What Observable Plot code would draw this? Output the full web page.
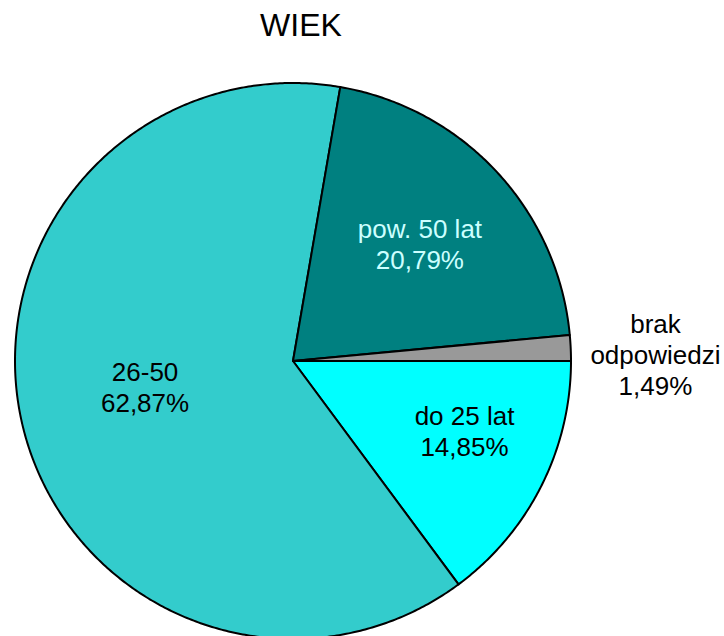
<!DOCTYPE html>
<html>
<head>
<meta charset="utf-8">
<script src="https://cdn.jsdelivr.net/npm/d3@7"></script>
<script src="https://cdn.jsdelivr.net/npm/@observablehq/plot@0.6"></script>
<style>
  html, body { margin: 0; padding: 0; background: white; }
  #title { width: 724px; box-sizing: border-box; padding-right: 122px; height: 50px; line-height: 50px;
           text-align: center; font-family: "Liberation Sans", Arial, sans-serif; font-size: 32px; color: black; }
  svg { display: block; }
</style>
</head>
<body>
<div id="title">WIEK</div>
<div id="chart"></div>
<script>
// ---- data ----
const categories = ["do 25 lat", "26-50", "pow. 50 lat", "brak odpowiedzi"];
const labelNames = ["do 25 lat", "26-50", "pow. 50 lat", "brak\nodpowiedzi"];
const values = [14.85, 62.87, 20.79, 1.49];
const sliceColors = ["#00FFFF", "#33CCCC", "#008080", "#999999"];
const labelColors = ["#000000", "#000000", "#CCFFFF", "#000000"];

// ---- layout (label placement relative to slice mid-angle) ----
const labelRadius = [0.666, 0.54, 0.622, 1.304];
const labelAngleShift = [-4.6, 3.6, 0, 1.6]; // degrees

const total = d3.sum(values);
const slices = [];
const outline = [];
let acc = 0;
values.forEach((v, i) => {
  const a0 = 2 * Math.PI * acc / total;
  acc += v;
  const a1 = 2 * Math.PI * acc / total;
  const n = Math.max(2, Math.ceil((a1 - a0) / (Math.PI / 360)));
  outline.push({cat: categories[i], color: sliceColors[i], x: 0, y: 0});
  for (let k = 0; k <= n; k++) {
    const a = a0 + (a1 - a0) * k / n;
    outline.push({cat: categories[i], color: sliceColors[i], x: Math.cos(a), y: Math.sin(a)});
  }
  const mid = (a0 + a1) / 2 + labelAngleShift[i] * Math.PI / 180;
  slices.push({
    cat: categories[i],
    text: labelNames[i] + "\n" + v.toFixed(2).replace(".", ",") + "%",
    tcolor: labelColors[i],
    x: labelRadius[i] * Math.cos(mid),
    y: labelRadius[i] * Math.sin(mid)
  });
});

const plot = Plot.plot({
  width: 724,
  height: 586,
  margin: 0,
  x: {domain: [-1, 1], range: [14.5, 570.5], axis: null},
  y: {domain: [-1, 1], range: [32.5, 588.5], axis: null},
  color: {type: "identity"},
  style: {background: "white"},
  marks: [
    Plot.line(outline, {x: "x", y: "y", z: "cat", fill: "color", stroke: "black", strokeWidth: 2,
                        strokeLinejoin: "round", curve: "linear-closed"}),
    Plot.text(slices, {x: "x", y: "y", text: "text", fill: "tcolor", fontSize: 26, lineHeight: 1.2,
                       fontFamily: "Liberation Sans, Arial, sans-serif", textAnchor: "middle", lineAnchor: "middle"})
  ]
});
document.getElementById("chart").appendChild(plot);
</script>
</body>
</html>
